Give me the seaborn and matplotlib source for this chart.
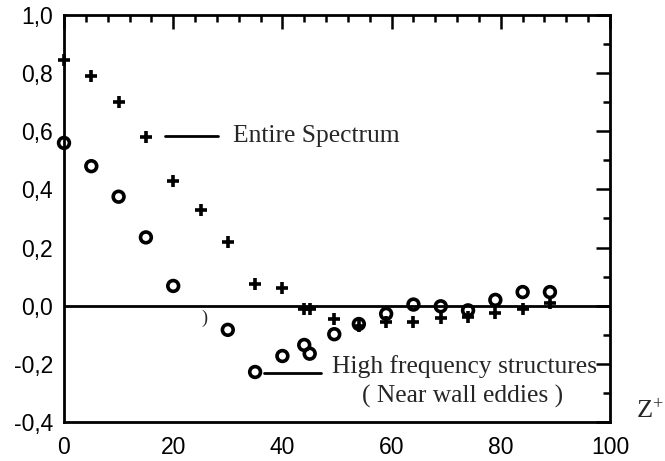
import matplotlib
matplotlib.use("Agg")
import matplotlib.pyplot as plt
import seaborn as sns
import pandas as pd
from matplotlib.ticker import MultipleLocator, FuncFormatter

# ---- data ----
plus_z = [0, 5, 10, 15, 20, 25, 30, 35, 40, 44, 45, 49.5, 54, 59, 64, 69, 74, 79, 84, 89]
plus_v = [0.845, 0.79, 0.70, 0.58, 0.43, 0.33, 0.22, 0.076, 0.06, -0.012, -0.012,
          -0.045, -0.07, -0.055, -0.057, -0.042, -0.04, -0.025, -0.012, 0.008]
circ_z = [0, 5, 10, 15, 20, 30, 35, 40, 44, 45, 49.5, 54, 59, 64, 69, 74, 79, 84, 89]
circ_v = [0.56, 0.48, 0.375, 0.235, 0.068, -0.083, -0.228, -0.173, -0.135, -0.165,
          -0.098, -0.063, -0.028, 0.004, -0.002, -0.016, 0.02, 0.047, 0.047]
x_ticks = [0, 20, 40, 60, 80, 100]
y_ticks = [-0.4, -0.2, 0.0, 0.2, 0.4, 0.6, 0.8, 1.0]
label_entire = "Entire Spectrum"
label_high = "High frequency structures"
label_high2 = "( Near wall eddies )"

sns.set_theme(style="white")
plt.rcParams['font.family'] = ['Liberation Sans', 'DejaVu Sans']
plt.rcParams['mathtext.fontset'] = 'custom'
plt.rcParams['mathtext.rm'] = 'Liberation Serif'
plt.rcParams['mathtext.it'] = 'Liberation Serif'

fig = plt.figure(figsize=(6.65, 4.61), dpi=100)
ax = fig.add_axes([64/665, 1 - 422/461, (610 - 64)/665, (422 - 15)/461])

df_p = pd.DataFrame({"z": plus_z, "v": plus_v})
df_c = pd.DataFrame({"z": circ_z, "v": circ_v})

sns.scatterplot(data=df_p, x="z", y="v", marker="+", color="black", s=85,
                linewidth=2.6, ax=ax, clip_on=False, zorder=4)
sns.scatterplot(data=df_c, x="z", y="v", marker="o", facecolor="none",
                edgecolor="black", s=60, linewidth=2.6, ax=ax, clip_on=False, zorder=4)

ax.axhline(0, color="black", lw=2.0, zorder=2)

ax.set_xlim(0, 100)
ax.set_ylim(-0.4, 1.0)
ax.set_xlabel("")
ax.set_ylabel("")

ax.xaxis.set_minor_locator(MultipleLocator(4))
ax.yaxis.set_minor_locator(MultipleLocator(0.1))
ax.set_xticks(x_ticks)
ax.set_yticks(y_ticks)
ax.yaxis.set_major_formatter(FuncFormatter(lambda v, p: f"{v:.1f}".replace(".", ",").replace("-0,0", "0,0")))

ax.tick_params(which="both", direction="in", top=True, right=True, width=1.8, colors="black")
ax.tick_params(which="major", length=10, labelsize=16.5)
ax.tick_params(which="minor", length=5)
ax.tick_params(axis="x", which="major", pad=10)
ax.tick_params(axis="y", which="major", pad=8)

for s in ax.spines.values():
    s.set_linewidth(2.0)
    s.set_color("black")

serif = ['Liberation Serif', 'DejaVu Serif']
# annotations
ax.plot([18.5, 28.2], [0.583, 0.583], color="black", lw=2.0)
ax.text(30.9, 0.562, label_entire, family=serif, fontsize=18.4, va="baseline", ha="left")
ax.plot([36.7, 47.0], [-0.231, -0.231], color="black", lw=2.0)
ax.text(49.0, -0.231, label_high, family=serif, fontsize=18.4, va="baseline", ha="left")
ax.text(73.0, -0.333, label_high2, family=serif, fontsize=18.4, va="baseline", ha="center")
ax.text(25.8, -0.045, ")", family=serif, fontsize=13, va="center", ha="center")

ax.text(104.8, -0.389, r"$\mathrm{Z}^{+}$", fontsize=19, va="baseline", ha="left",
        clip_on=False)

fig.savefig("out.png", dpi=100)
